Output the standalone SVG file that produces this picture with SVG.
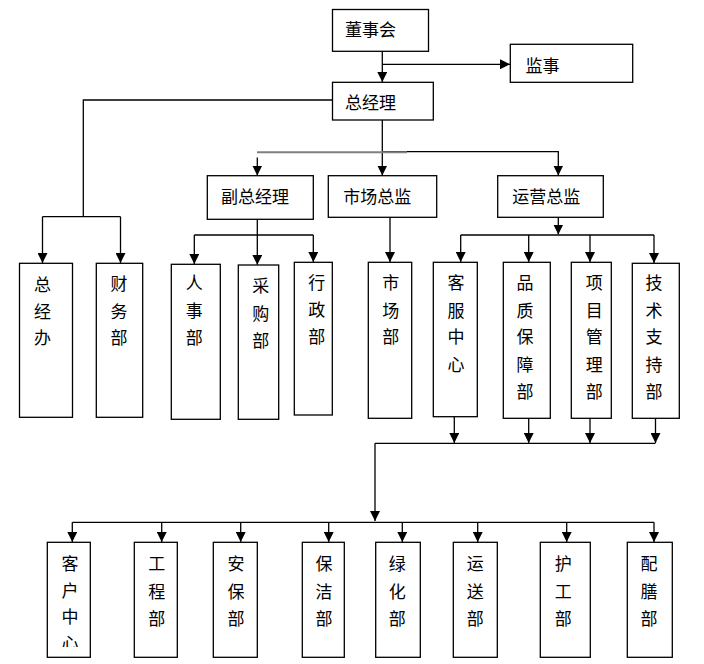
<svg xmlns="http://www.w3.org/2000/svg" width="704" height="664" viewBox="0 0 704 664">
<style>
.box{fill:#fff;stroke:#000;stroke-width:1.3}
.t{font-family:"Noto Sans CJK SC","Noto Sans CJK TC",sans-serif;font-size:17px;fill:#000}
.v{text-anchor:middle}
.c{fill:none;stroke:#000;stroke-width:1.3}
.a{marker-end:url(#arr)}
</style>
<defs>
<marker id="arr" markerUnits="userSpaceOnUse" markerWidth="10" markerHeight="10" refX="10" refY="5" orient="auto" viewBox="0 0 10 10">
<path d="M0,0 L10,5 L0,10 z" fill="#000"/>
</marker>
<clipPath id="clipKH"><rect x="40" y="540" width="60" height="107"/></clipPath>
</defs>
<rect width="704" height="664" fill="#fff"/>
<g id="connectors">
<path class="c a" d="M382.3,51.3 V82"/>
<path class="c a" d="M382.3,64.3 H510"/>
<path class="c" d="M332.5,100 H83.3 V216.7"/>
<path class="c" d="M42.5,216.7 H120.5"/>
<path class="c a" d="M42.5,216.7 V263"/>
<path class="c a" d="M120.5,216.7 V263"/>
<path class="c a" d="M382.3,120 V175.5"/>
<path class="c a" d="M382.3,151.7 H558.3 V175.5"/>
<path d="M257,152.3 H407" fill="none" stroke="#808080" stroke-width="2"/>
<path class="c a" d="M257.3,157.5 V175.5"/>
<path class="c a" d="M257.3,219.3 V264.8"/>
<path class="c" d="M194.3,235 H313.3"/>
<path class="c a" d="M194.3,235 V264"/>
<path class="c a" d="M313.3,235 V262"/>
<path class="c a" d="M390,217.3 V262"/>
<path class="c a" d="M558.3,217.3 V234.5"/>
<path class="c" d="M460.7,235 H654"/>
<path class="c a" d="M460.7,235 V262"/>
<path class="c a" d="M528.7,235 V262"/>
<path class="c a" d="M590,235 V262"/>
<path class="c a" d="M654,235 V263"/>
<path class="c a" d="M454.3,416.7 V443"/>
<path class="c a" d="M528.7,418.3 V443"/>
<path class="c a" d="M590,418.3 V443"/>
<path class="c a" d="M655.5,418.3 V443"/>
<path class="c" d="M375,443.3 H655.5"/>
<path class="c a" d="M375,443.3 V521"/>
<path class="c" d="M72.3,522.3 H654"/>
<path class="c a" d="M72.3,522.3 V542"/>
<path class="c a" d="M161.7,522.3 V542"/>
<path class="c a" d="M240.7,522.3 V542"/>
<path class="c a" d="M328.7,522.3 V542"/>
<path class="c a" d="M402.3,522.3 V542"/>
<path class="c a" d="M477.7,522.3 V542"/>
<path class="c a" d="M566.7,522.3 V542"/>
<path class="c a" d="M654,522.3 V542"/>
</g>
<g id="dongshihui"><rect class="box" x="332.5" y="9.5" width="96" height="41.8"/><text class="t" x="345" y="36">董事会</text></g>
<g id="jianshi"><rect class="box" x="510.3" y="44.3" width="122.4" height="38"/><text class="t" x="525.5" y="71.7">监事</text></g>
<g id="zongjingli"><rect class="box" x="332.5" y="82.3" width="100.8" height="37.7"/><text class="t" x="345" y="109.3">总经理</text></g>
<g id="fuzongjingli"><rect class="box" x="207.3" y="175.7" width="106" height="43.6"/><text class="t" x="221" y="202.7">副总经理</text></g>
<g id="shichangzongjian"><rect class="box" x="328.3" y="175.7" width="108.4" height="41.6"/><text class="t" x="343.3" y="202.7">市场总监</text></g>
<g id="yunyingzongjian"><rect class="box" x="497.7" y="175.7" width="105.6" height="41.6"/><text class="t" x="512.3" y="202.7">运营总监</text></g>
<g id="zongjingban"><rect class="box" x="19.5" y="263.3" width="53" height="154"/><text class="t v"><tspan x="42.5" y="290.5">总</tspan><tspan x="42.5" y="317.5">经</tspan><tspan x="42.5" y="344.3">办</tspan></text></g>
<g id="caiwubu"><rect class="box" x="96.3" y="263.3" width="46.4" height="154"/><text class="t v"><tspan x="119" y="290">财</tspan><tspan x="119" y="317.5">务</tspan><tspan x="119" y="344.3">部</tspan></text></g>
<g id="renshibu"><rect class="box" x="171.3" y="264.3" width="49" height="155"/><text class="t v"><tspan x="194.3" y="289.3">人</tspan><tspan x="194.3" y="317">事</tspan><tspan x="194.3" y="344.3">部</tspan></text></g>
<g id="caigoubu"><rect class="box" x="238.3" y="265" width="40.4" height="154.3"/><text class="t v"><tspan x="260.7" y="292">采</tspan><tspan x="260.7" y="320">购</tspan><tspan x="260.7" y="347">部</tspan></text></g>
<g id="xingzhengbu"><rect class="box" x="294.3" y="262.3" width="38" height="152.7"/><text class="t v"><tspan x="316.7" y="289.3">行</tspan><tspan x="316.7" y="316">政</tspan><tspan x="316.7" y="342.7">部</tspan></text></g>
<g id="shichangbu"><rect class="box" x="368.3" y="262.3" width="43.4" height="156"/><text class="t v"><tspan x="390.7" y="289.3">市</tspan><tspan x="390.7" y="316.7">场</tspan><tspan x="390.7" y="343.3">部</tspan></text></g>
<g id="kefuzhongxin"><rect class="box" x="433.3" y="262.3" width="44" height="154.4"/><text class="t v"><tspan x="456" y="289.3">客</tspan><tspan x="456" y="316.7">服</tspan><tspan x="456" y="343.3">中</tspan><tspan x="456" y="371">心</tspan></text></g>
<g id="pinzhibaozhangbu"><rect class="box" x="503.3" y="262.3" width="47" height="156"/><text class="t v"><tspan x="525" y="289.3">品</tspan><tspan x="525" y="316.7">质</tspan><tspan x="525" y="343.3">保</tspan><tspan x="525" y="371">障</tspan><tspan x="525" y="397.7">部</tspan></text></g>
<g id="xiangmuguanlibu"><rect class="box" x="571.3" y="262.3" width="40" height="156"/><text class="t v"><tspan x="594.3" y="289.3">项</tspan><tspan x="594.3" y="316.7">目</tspan><tspan x="594.3" y="343.3">管</tspan><tspan x="594.3" y="371">理</tspan><tspan x="594.3" y="397.7">部</tspan></text></g>
<g id="jishuzhichibu"><rect class="box" x="632.3" y="263.3" width="47" height="155"/><text class="t v"><tspan x="654" y="289.3">技</tspan><tspan x="654" y="316.7">术</tspan><tspan x="654" y="343.3">支</tspan><tspan x="654" y="371">持</tspan><tspan x="654" y="397.7">部</tspan></text></g>
<g id="kehuzhongxin"><rect class="box" x="47.3" y="542.3" width="43" height="115"/><text class="t v" clip-path="url(#clipKH)"><tspan x="70" y="570">客</tspan><tspan x="70" y="596.7">户</tspan><tspan x="70" y="623">中</tspan><tspan x="70" y="650">心</tspan></text></g>
<g id="gongchengbu"><rect class="box" x="134.3" y="542.3" width="43" height="115"/><text class="t v"><tspan x="156.7" y="570">工</tspan><tspan x="156.7" y="597.5">程</tspan><tspan x="156.7" y="624.5">部</tspan></text></g>
<g id="anbaobu"><rect class="box" x="213.3" y="542.3" width="44" height="115"/><text class="t v"><tspan x="236" y="570">安</tspan><tspan x="236" y="597.5">保</tspan><tspan x="236" y="624.5">部</tspan></text></g>
<g id="baojiebu"><rect class="box" x="302.3" y="542.3" width="42" height="115"/><text class="t v"><tspan x="324" y="570">保</tspan><tspan x="324" y="597.5">洁</tspan><tspan x="324" y="624.5">部</tspan></text></g>
<g id="lvhuabu"><rect class="box" x="375.7" y="542.3" width="44.6" height="115"/><text class="t v"><tspan x="397.3" y="570">绿</tspan><tspan x="397.3" y="597.5">化</tspan><tspan x="397.3" y="624.5">部</tspan></text></g>
<g id="yunsongbu"><rect class="box" x="453.3" y="542.3" width="44" height="115"/><text class="t v"><tspan x="475.3" y="570">运</tspan><tspan x="475.3" y="597.5">送</tspan><tspan x="475.3" y="624.5">部</tspan></text></g>
<g id="hugongbu"><rect class="box" x="540.3" y="542.3" width="50" height="115"/><text class="t v"><tspan x="563.3" y="570">护</tspan><tspan x="563.3" y="597.5">工</tspan><tspan x="563.3" y="624.5">部</tspan></text></g>
<g id="peishanbu"><rect class="box" x="627.3" y="542.3" width="45" height="115"/><text class="t v"><tspan x="649" y="570">配</tspan><tspan x="649" y="597.5">膳</tspan><tspan x="649" y="624.5">部</tspan></text></g>
</svg>
